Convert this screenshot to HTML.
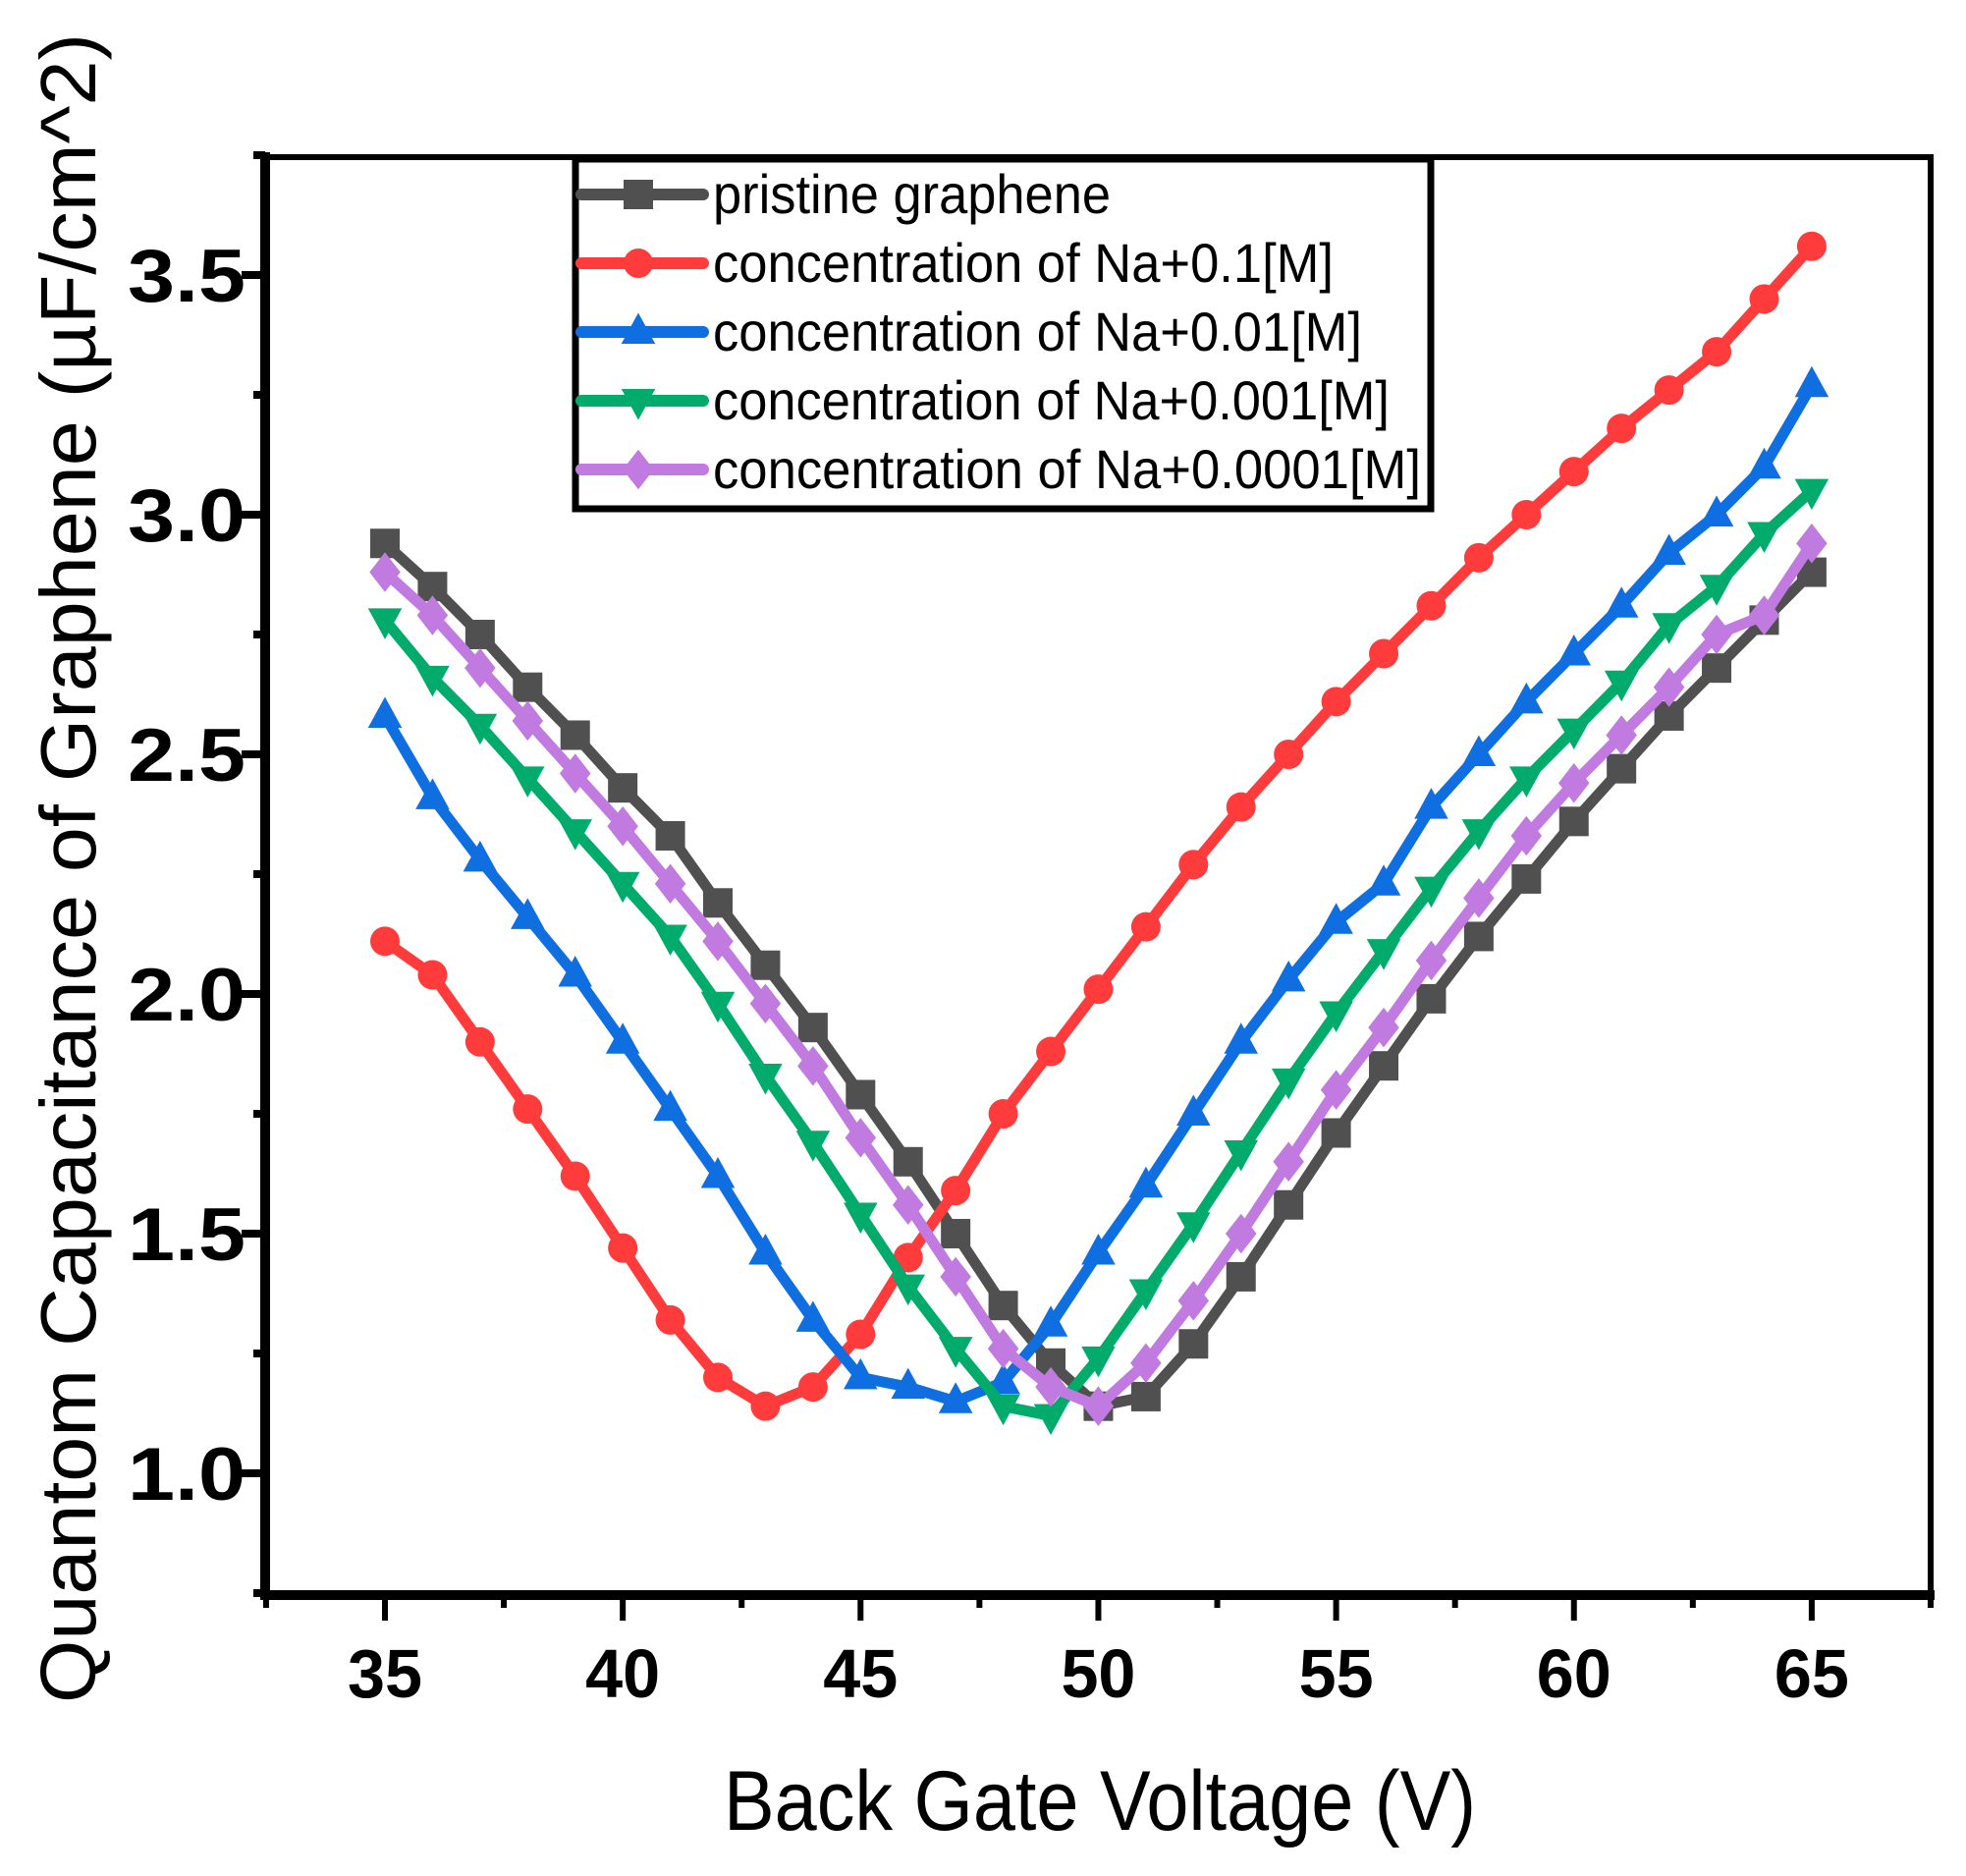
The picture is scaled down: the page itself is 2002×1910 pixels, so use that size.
<!DOCTYPE html>
<html><head><meta charset="utf-8"><style>
html,body{margin:0;padding:0;background:#fff;}
svg{display:block;font-family:"Liberation Sans",Arial,sans-serif;}
</style></head><body>
<svg id="chart" width="2002" height="1910" viewBox="0 0 2002 1910" xmlns="http://www.w3.org/2000/svg">
<g id="plot"></g>
<g id="axes"></g>
<g id="legend"></g>
</svg>
<script>
const xValues = [35,36,37,38,39,40,41,42,43,44,45,46,47,48,49,50,51,52,53,54,55,56,57,58,59,60,61,62,63,64,65];
const pristine = [2.94,2.85,2.75,2.64,2.54,2.43,2.33,2.19,2.06,1.93,1.79,1.65,1.50,1.35,1.23,1.14,1.16,1.27,1.41,1.56,1.71,1.85,1.99,2.12,2.24,2.36,2.47,2.58,2.68,2.78,2.88];
const na01 = [2.11,2.04,1.90,1.76,1.62,1.47,1.32,1.20,1.14,1.18,1.29,1.45,1.59,1.75,1.88,2.01,2.14,2.27,2.39,2.50,2.61,2.71,2.81,2.91,3.00,3.09,3.18,3.26,3.34,3.45,3.56];
const na001 = [2.58,2.41,2.28,2.16,2.04,1.90,1.76,1.62,1.46,1.32,1.20,1.18,1.15,1.19,1.31,1.46,1.60,1.75,1.90,2.03,2.15,2.23,2.39,2.50,2.61,2.71,2.81,2.92,3.00,3.10,3.27];
const na0001 = [2.78,2.66,2.56,2.45,2.34,2.23,2.12,1.98,1.83,1.69,1.54,1.39,1.26,1.14,1.12,1.24,1.38,1.52,1.67,1.82,1.96,2.09,2.22,2.34,2.45,2.55,2.65,2.77,2.85,2.96,3.05];
const na00001 = [2.88,2.79,2.68,2.57,2.46,2.35,2.23,2.11,1.98,1.85,1.70,1.56,1.41,1.26,1.18,1.14,1.23,1.36,1.50,1.65,1.80,1.93,2.07,2.20,2.33,2.44,2.54,2.64,2.75,2.79,2.94];
const seriesNames = ["pristine graphene","concentration of Na+0.1[M]","concentration of Na+0.01[M]","concentration of Na+0.001[M]","concentration of Na+0.0001[M]"];
const xTicks = [35,40,45,50,55,60,65];
const yTicks = [1.0,1.5,2.0,2.5,3.0,3.5];
const yTickLabels = ["1.0","1.5","2.0","2.5","3.0","3.5"];

const NS="http://www.w3.org/2000/svg";
function X(v){return 392+(v-35)*48.43;}
function Y(v){return 1500-(v-1.0)*488;}
function mk(tag,attrs,parent){const e=document.createElementNS(NS,tag);for(const k in attrs)e.setAttribute(k,attrs[k]);parent.appendChild(e);return e;}

const plot=document.getElementById('plot'),axes=document.getElementById('axes'),legend=document.getElementById('legend');
const series=[
 {vals:pristine,color:"#505050",m:"square",key:"pristine"},
 {vals:na01,color:"#ff3b3b",m:"circle",key:"na-0.1"},
 {vals:na001,color:"#0f6fe0",m:"up",key:"na-0.01"},
 {vals:na0001,color:"#00ab6b",m:"down",key:"na-0.001"},
 {vals:na00001,color:"#c07ae0",m:"diamond",key:"na-0.0001"}
];
function marker(type,cx,cy,color,parent,s){
  let e;
  if(type==="square") e=mk('rect',{x:cx-s,y:cy-s,width:2*s,height:2*s,fill:color},parent);
  else if(type==="circle") e=mk('circle',{cx:cx,cy:cy,r:s,fill:color},parent);
  else if(type==="up") e=mk('polygon',{points:`${cx},${cy-s*1.3} ${cx-s*1.15},${cy+s*0.8} ${cx+s*1.15},${cy+s*0.8}`,fill:color},parent);
  else if(type==="down") e=mk('polygon',{points:`${cx},${cy+s*1.3} ${cx-s*1.15},${cy-s*0.8} ${cx+s*1.15},${cy-s*0.8}`,fill:color},parent);
  else e=mk('polygon',{points:`${cx},${cy-s*1.35} ${cx+s*1.05},${cy} ${cx},${cy+s*1.35} ${cx-s*1.05},${cy}`,fill:color},parent);
  return e;
}
series.forEach((sr,i)=>{
  const g=mk('g',{},plot);
  
  
  const pts=xValues.map((x,j)=>X(x)+','+Y(sr.vals[j])).join(' ');
  const pl=mk('polyline',{points:pts,fill:'none',stroke:sr.color,'stroke-width':11,'stroke-linejoin':'round'},g);
  
  
  xValues.forEach((x,j)=>{
    const m=marker(sr.m,X(x),Y(sr.vals[j]),sr.color,g,15);
    
    
  });
});

const fr=mk('path',{d:'M270,160 H1966 V1624',fill:'none',stroke:'#000','stroke-width':6},axes);


const yl=mk('line',{x1:270,y1:155,x2:270,y2:1628,stroke:'#000','stroke-width':10},axes);


const xl=mk('line',{x1:265,y1:1624,x2:1970,y2:1624,stroke:'#000','stroke-width':10},axes);


for(let v=0.75;v<=3.76;v+=0.25){
  const major=Math.abs((v*2)-Math.round(v*2))<1e-6;
  const t=mk('line',{x1:270,x2:major?246:258,y1:Y(v),y2:Y(v),stroke:'#000','stroke-width':8},axes);
  
  
}
yTicks.forEach((v,i)=>{
  const t=mk('text',{x:250,y:Y(v)+27,'text-anchor':'end','font-size':76,'font-weight':'bold',fill:'#000',textLength:120,lengthAdjust:'spacingAndGlyphs'},axes);
  t.textContent=yTickLabels[i];
  
  
});
for(let v=32.5;v<=67.6;v+=2.5){
  const major=Math.abs(v%5)<1e-6;
  const t=mk('line',{x1:X(v),x2:X(v),y1:1624,y2:major?1650:1637,stroke:'#000','stroke-width':6},axes);
  
  
}
xTicks.forEach(v=>{
  const t=mk('text',{x:X(v),y:1728,'text-anchor':'middle','font-size':70,'font-weight':'bold',fill:'#000',textLength:76,lengthAdjust:'spacingAndGlyphs'},axes);
  t.textContent=String(v);
  
  
});
const xt=mk('text',{x:1120,y:1863,'text-anchor':'middle','font-size':86,fill:'#000',textLength:766,lengthAdjust:'spacingAndGlyphs'},axes);
xt.textContent='Back Gate Voltage (V)';


const yt=mk('text',{x:0,y:0,'text-anchor':'middle','font-size':80,fill:'#000',textLength:1700,lengthAdjust:'spacingAndGlyphs',transform:'translate(97,884) rotate(-90)'},axes);
yt.textContent='Quantom Capacitance of Graphene (\u00b5F/cm^2)';



const lb=mk('rect',{x:586,y:162,width:871,height:356,fill:'#fff',stroke:'#000','stroke-width':7},legend);


const rowY=[198,268,338,408,478];
const textEnd=[1131,1358,1387,1415,1447];
series.forEach((sr,i)=>{
  const g=mk('g',{},legend);
  
  
  mk('line',{x1:592,x2:716,y1:rowY[i],y2:rowY[i],stroke:sr.color,'stroke-width':12,'stroke-linecap':'round'},g);
  marker(sr.m,650,rowY[i],sr.color,g,15);
  const t=mk('text',{x:726,y:rowY[i]+19,'font-size':56,fill:'#000',textLength:textEnd[i]-726,lengthAdjust:'spacingAndGlyphs'},g);
  t.textContent=seriesNames[i];
  
  
});
</script>
</body></html>
